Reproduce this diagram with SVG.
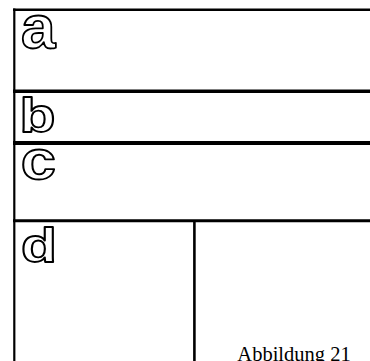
<svg xmlns="http://www.w3.org/2000/svg" width="370" height="361" viewBox="0 0 370 361">
<style>
.ln{stroke:#000;fill:none;stroke-linecap:butt}
.lt{font-family:"Liberation Sans",Arial,sans-serif;font-weight:bold;fill:#fff;stroke:#000;stroke-width:1.8;stroke-linejoin:round}
.cap{font-family:"Liberation Serif","Times New Roman",serif;font-size:20.5px;fill:#000}
</style>
<rect width="370" height="361" fill="#fff"/>
<g id="connectors">
<line class="ln" x1="13" y1="9.8" x2="370" y2="9.8" stroke-width="2.6"/>
<line class="ln" x1="14.3" y1="8.5" x2="14.3" y2="361" stroke-width="2.2"/>
<line class="ln" x1="13" y1="91.2" x2="370" y2="91.2" stroke-width="3.6"/>
<line class="ln" x1="13" y1="143" x2="370" y2="143" stroke-width="3.8"/>
<line class="ln" x1="13" y1="220.8" x2="370" y2="220.8" stroke-width="3"/>
<line class="ln" x1="194.4" y1="220.8" x2="194.4" y2="361" stroke-width="2.6"/>
</g>
<g id="a"><text class="lt" font-size="62" transform="translate(21,47.5)">a</text></g>
<g id="b"><text class="lt" font-size="49" transform="translate(19.5,131.5) scale(1.2,1)">b</text></g>
<g id="c"><text class="lt" font-size="55" transform="translate(20.8,179) scale(1.15,1)">c</text></g>
<g id="d"><text class="lt" font-size="49" transform="translate(21,262) scale(1.2,1)">d</text></g>
<g id="caption"><text class="cap" x="294" y="361" text-anchor="middle">Abbildung 21</text></g>
</svg>
